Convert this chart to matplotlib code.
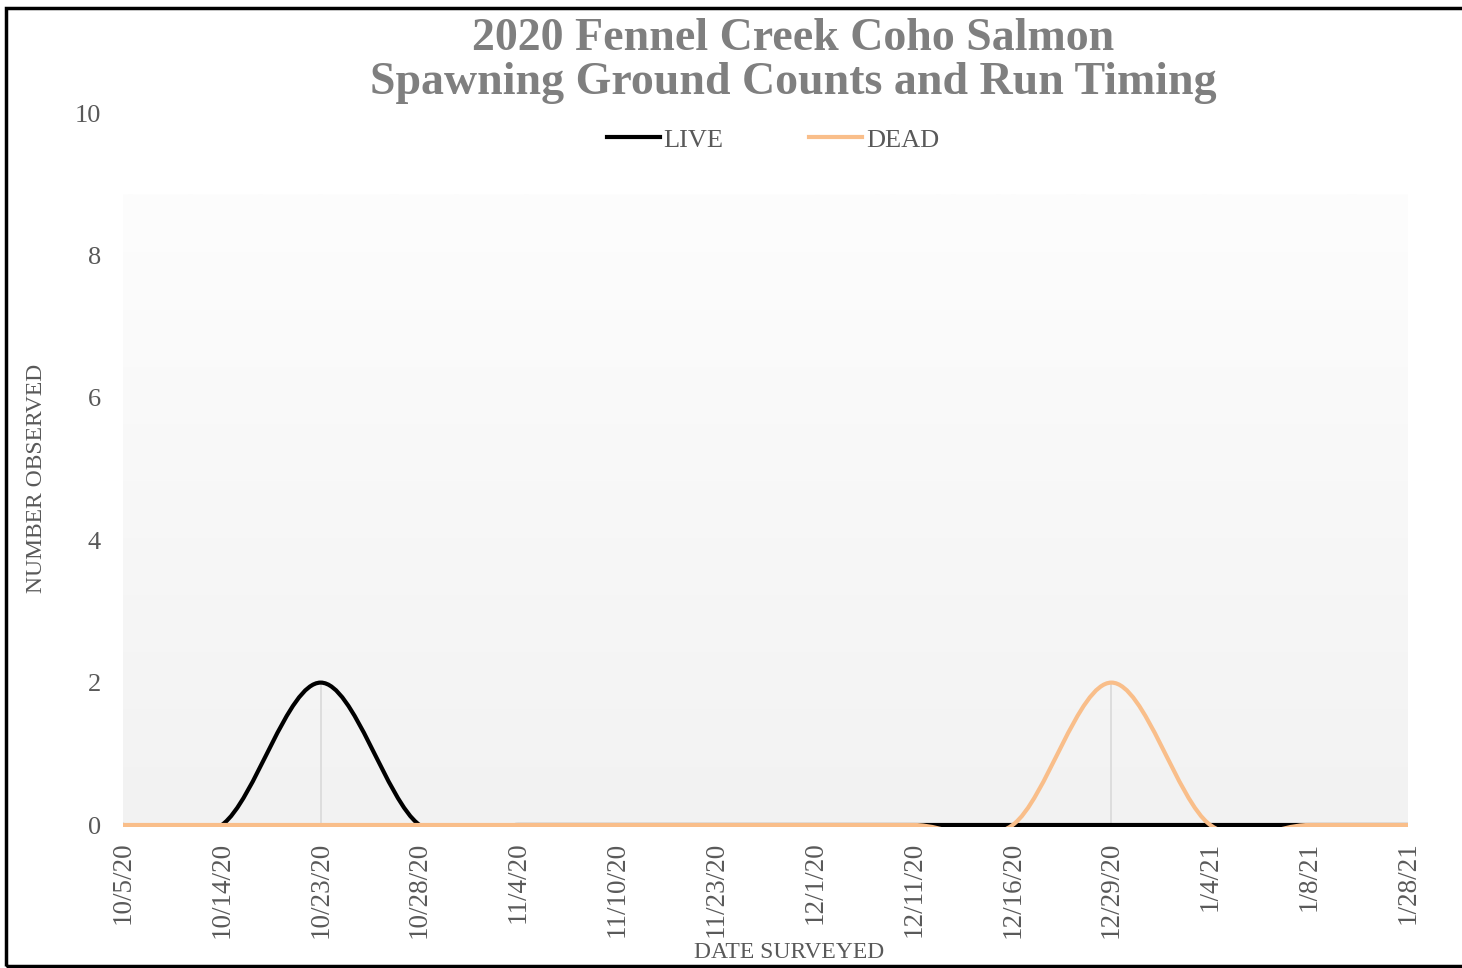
import numpy as np
import matplotlib
matplotlib.use("Agg")
import matplotlib.pyplot as plt
from matplotlib.patches import Rectangle
from matplotlib.path import Path
from matplotlib.patches import PathPatch

plt.rcParams['font.family'] = ['Liberation Serif', 'DejaVu Serif']

# Survey dates (categorical axis) and fish counts
dates = ['10/5/20', '10/14/20', '10/23/20', '10/28/20', '11/4/20', '11/10/20',
         '11/23/20', '12/1/20', '12/11/20', '12/16/20', '12/29/20', '1/4/21',
         '1/8/21', '1/28/21']
live = [0, 0, 2, 0, 0, 0, 0, 0, 0, 0, 0, 0, 0, 0]
dead = [0, 0, 0, 0, 0, 0, 0, 0, 0, 0, 2, 0, 0, 0]

y_ticks = [0, 2, 4, 6, 8, 10]

TEXT_GRAY = '#595959'
TITLE_GRAY = '#7f7f7f'
LIVE_COLOR = '#000000'
DEAD_COLOR = '#f9be8a'


def smooth_path(xs, ys):
    """Excel-style smoothed line: cubic Bezier with Catmull-Rom control points."""
    pts = np.column_stack([xs, ys]).astype(float)
    n = len(pts)
    verts = [pts[0]]
    codes = [Path.MOVETO]
    for i in range(n - 1):
        p_prev = pts[i - 1] if i > 0 else pts[i]
        p_next = pts[i + 2] if i + 2 < n else pts[i + 1]
        c1 = pts[i] + (pts[i + 1] - p_prev) / 6.0
        c2 = pts[i + 1] - (p_next - pts[i]) / 6.0
        verts += [c1, c2, pts[i + 1]]
        codes += [Path.CURVE4] * 3
    return Path(verts, codes)


fig = plt.figure(figsize=(14.62, 9.68), dpi=100)
ax = fig.add_axes([123 / 1462, 143 / 968, 1285 / 1462, 712 / 968])

x = np.arange(len(dates))
ax.set_xlim(0, len(dates) - 1)
ax.set_ylim(0, 10)

# gradient plot area background
grad = np.linspace(0xf2, 0xfd, 256)[:, None] / 255.0
grad_img = np.dstack([grad, grad, grad])
ax.imshow(grad_img, extent=(0, len(dates) - 1, 0, 8.85), origin='lower',
          aspect='auto', zorder=0, interpolation='bilinear')

# drop lines
tops = np.maximum(live, dead)
ax.vlines(x, 0, tops, color='#d9d9d9', lw=1.2, zorder=1)

clip = Rectangle((0, -0.035), len(dates) - 1, 10.1, transform=ax.transData,
                 facecolor='none', edgecolor='none')
ax.add_patch(clip)

for vals, col, lab in [(live, LIVE_COLOR, 'LIVE'), (dead, DEAD_COLOR, 'DEAD')]:
    patch = PathPatch(smooth_path(x, vals), facecolor='none', edgecolor=col,
                      lw=3.0, zorder=3, capstyle='round')
    ax.add_patch(patch)
    patch.set_clip_path(clip)
    ax.plot([], [], color=col, lw=3.0, label=lab)

ax.set_xticks(x)
ax.set_xticklabels(dates, rotation=90, fontsize=19.5, color=TEXT_GRAY)
ax.set_yticks(y_ticks)
ax.set_yticklabels([str(v) for v in y_ticks], fontsize=19, color=TEXT_GRAY)
ax.tick_params(length=0, pad=16)
ax.tick_params(axis='x', pad=12)
for s in ax.spines.values():
    s.set_visible(False)

fig.text(37 / 1462, 1 - 478 / 968, 'NUMBER OBSERVED', rotation=90, fontsize=17,
         color=TEXT_GRAY, ha='center', va='center')
fig.text(789 / 1462, 1 - 953 / 968, 'DATE SURVEYED', fontsize=17,
         color=TEXT_GRAY, ha='center', va='center')

fig.text(793 / 1462, 1 - 61 / 968,
         '2020 Fennel Creek Coho Salmon\nSpawning Ground Counts and Run Timing',
         fontsize=33, fontweight='bold', color=TITLE_GRAY, ha='center',
         va='center', linespacing=1.07)

fig.legend(loc='center', bbox_to_anchor=(773 / 1462, 1 - 140 / 968), ncol=2,
           frameon=False, fontsize=19, handlelength=2.0, handletextpad=0.15,
           columnspacing=3.25, labelcolor=TEXT_GRAY)

# outer chart border
fig.add_artist(Rectangle((6 / 1462, 2 / 968), 1.2, 958 / 968,
                         transform=fig.transFigure, facecolor='none',
                         edgecolor='black', lw=2.5, clip_on=False))

fig.savefig('out.png', dpi=100)
